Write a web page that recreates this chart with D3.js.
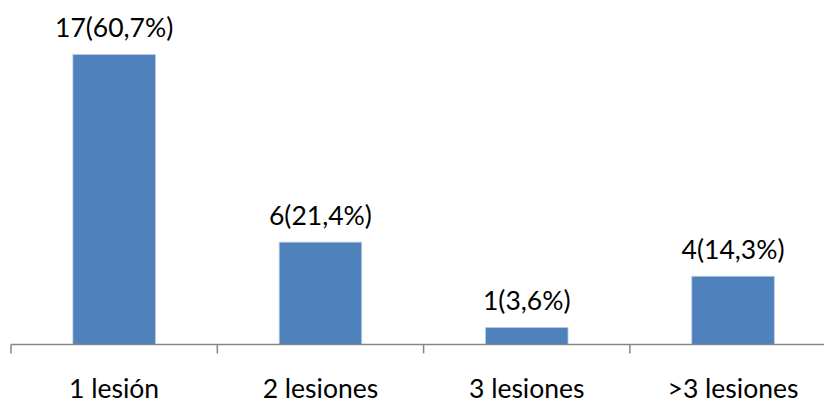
<!DOCTYPE html>
<html>
<head>
<meta charset="utf-8">
<script src="https://cdn.jsdelivr.net/npm/d3@7"></script>
<style>
  html, body { margin: 0; padding: 0; background: #fff; }
  svg { display: block; }
  text { font-family: Lato, "Open Sans", sans-serif; fill: #000; }
</style>
</head>
<body>
<svg id="chart" width="824" height="403"></svg>
<script>
// Número de lesiones por paciente
const categories = ["1 lesión", "2 lesiones", "3 lesiones", ">3 lesiones"];
const counts = [17, 6, 1, 4];
const percents = ["60,7%", "21,4%", "3,6%", "14,3%"];

const width = 824, height = 403;
const baseline = 344.5;
const left = 11, step = 206.3;

const svg = d3.select("#chart");

const x = d3.scaleBand()
  .domain(categories)
  .range([left, left + step * categories.length])
  .paddingInner(0.6)
  .paddingOuter(0.3);

const y = d3.scaleLinear()
  .domain([0, 18])
  .range([baseline, baseline - 18 * 17.06]);

// Barras
svg.append("g")
  .selectAll("rect")
  .data(counts)
  .join("rect")
  .attr("x", (d, i) => x(categories[i]))
  .attr("y", d => y(d))
  .attr("width", x.bandwidth())
  .attr("height", d => baseline - y(d))
  .attr("fill", "#4F81BD")
  .attr("stroke", "#B9CDE5")
  .attr("stroke-width", 0.8);

// Etiquetas de valor
svg.append("g")
  .selectAll("text")
  .data(counts)
  .join("text")
  .attr("x", (d, i) => x(categories[i]) + x.bandwidth() / 2)
  .attr("y", d => y(d) - 17)
  .attr("text-anchor", "middle")
  .attr("font-size", 26.5)
  .text((d, i) => `${d}(${percents[i]})`);

// Eje X con marcas entre categorías
const axis = svg.append("g");
axis.append("line")
  .attr("x1", left).attr("x2", width + 20)
  .attr("y1", baseline).attr("y2", baseline)
  .attr("stroke", "#868686").attr("stroke-width", 1.5);

const tickPos = d3.range(categories.length + 1).map(i => left + step * i);
axis.selectAll("line.tick")
  .data(tickPos)
  .join("line")
  .attr("class", "tick")
  .attr("x1", d => d).attr("x2", d => d)
  .attr("y1", baseline).attr("y2", baseline + 9)
  .attr("stroke", "#868686").attr("stroke-width", 1.5);

axis.selectAll("text")
  .data(categories)
  .join("text")
  .attr("x", d => x(d) + x.bandwidth() / 2)
  .attr("y", 398)
  .attr("text-anchor", "middle")
  .attr("font-size", 26.5)
  .text(d => d);
</script>
</body>
</html>
